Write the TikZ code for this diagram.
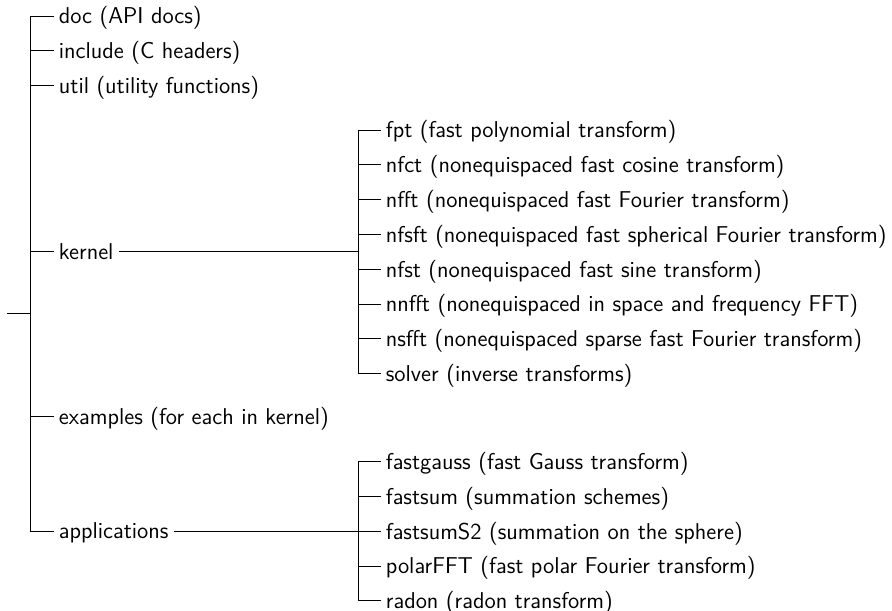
\documentclass[tikz,border=0pt]{standalone}
\usepackage{tikz}
\usetikzlibrary{calc}
\begin{document}
\begin{tikzpicture}[x=0.5pt,y=-0.5pt,font=\sffamily\fontsize{11.45pt}{13.5pt}\selectfont,
                 leaf/.style={anchor=west,inner xsep=2.5pt,inner ysep=0pt,text height=7.8pt,text depth=0pt}]
                 \useasboundingbox (0,0) rectangle (892,610);
                 \coordinate (root) at (7,313.3);
                 \coordinate (t0) at (30,313.3);
                 \coordinate (k0) at (358,251.5);
                 \coordinate (a0) at (358,531);
                 \node[leaf] (doc) at (53.5,16) {doc (API docs)};
                 \node[leaf] (incl) at (53.5,50.8) {include (C headers)};
                 \node[leaf] (util) at (53.5,85.6) {util (utility functions)};
                 \node[leaf] (kern) at (53.5,251.5) {kernel};
                 \node[leaf] (exam) at (53.5,416.7) {examples (for each in kernel)};
                 \node[leaf] (appl) at (53.5,531) {applications};
                 \node[leaf] (fpt) at (380.5,130) {fpt (fast polynomial transform)};
                 \node[leaf] (nfct) at (380.5,164.8) {nfct (nonequispaced fast cosine transform)};
                 \node[leaf] (nfft) at (380.5,199.6) {nfft (nonequispaced fast Fourier transform)};
                 \node[leaf] (nfsft) at (380.5,234.4) {nfsft (nonequispaced fast spherical Fourier transform)};
                 \node[leaf] (nfst) at (380.5,269.2) {nfst (nonequispaced fast sine transform)};
                 \node[leaf] (nnfft) at (380.5,304) {nnfft (nonequispaced in space and frequency FFT)};
                 \node[leaf] (nsfft) at (380.5,338.8) {nsfft (nonequispaced sparse fast Fourier transform)};
                 \node[leaf] (solv) at (380.5,373.6) {solver (inverse transforms)};
                 \node[leaf] (gauss) at (380.5,461.6) {fastgauss (fast Gauss transform)};
                 \node[leaf] (fsum) at (380.5,496.4) {fastsum (summation schemes)};
                 \node[leaf] (fsumS) at (380.5,531.2) {fastsumS2 (summation on the sphere)};
                 \node[leaf] (polar) at (380.5,566) {polarFFT (fast polar Fourier transform)};
                 \node[leaf] (radon) at (380.5,600.8) {radon (radon transform)};
                 \draw (root)--(t0);
                 \draw (t0) |- (doc.west);
                 \draw (t0) |- (incl.west);
                 \draw (t0) |- (util.west);
                 \draw (t0) |- (kern.west);
                 \draw (t0) |- (exam.west);
                 \draw (t0) |- (appl.west);
                 \draw (kern.east)--(k0);
                 \draw (k0) |- (fpt.west);
                 \draw (k0) |- (nfct.west);
                 \draw (k0) |- (nfft.west);
                 \draw (k0) |- (nfsft.west);
                 \draw (k0) |- (nfst.west);
                 \draw (k0) |- (nnfft.west);
                 \draw (k0) |- (nsfft.west);
                 \draw (k0) |- (solv.west);
                 \draw (appl.east)--(a0);
                 \draw (a0) |- (gauss.west);
                 \draw (a0) |- (fsum.west);
                 \draw (a0) |- (fsumS.west);
                 \draw (a0) |- (polar.west);
                 \draw (a0) |- (radon.west);
               \end{tikzpicture}
\end{document}
